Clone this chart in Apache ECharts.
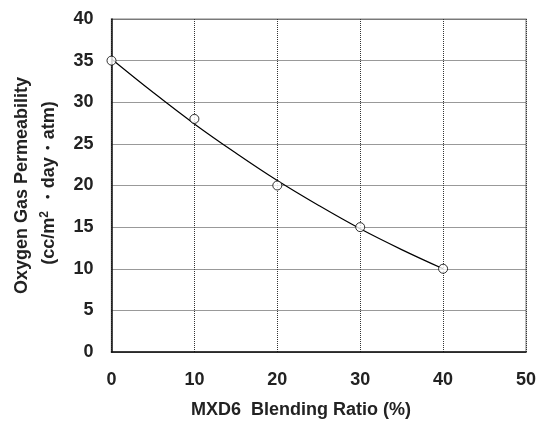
<!DOCTYPE html>
<html>
<head>
<meta charset="utf-8">
<script src="https://cdn.jsdelivr.net/npm/echarts@6/dist/echarts.min.js"></script>
<style>
  html, body { margin: 0; padding: 0; background: #fff; }
  #chart { width: 539px; height: 421px; }
</style>
</head>
<body>
<div id="chart"></div>
<script>
// Measured oxygen permeability vs. MXD6 blending ratio
const blendRatio = [0, 10, 20, 30, 40];
const permeability = [35, 28, 20, 15, 10];

// Fitted trend curve (quadratic fit), sampled every 5 %
const trendX = [0, 5, 10, 15, 20, 25, 30, 35, 40];
const trendY = [35.2, 31.2, 27.4, 23.9, 20.6, 17.6, 14.8, 12.3, 10.0];

const xTicks = [0, 10, 20, 30, 40, 50];
const yTicks = [0, 5, 10, 15, 20, 25, 30, 35, 40];

const FONT = '"Liberation Sans", Arial, sans-serif';
const TEXT = '#222';

const chart = echarts.init(document.getElementById('chart'), null, { renderer: 'canvas' });

const gridLine = { show: true, lineStyle: { color: '#333', type: [1, 1], width: 1 } };

chart.setOption({
  animation: false,
  backgroundColor: '#fff',
  grid: { left: 111.5, right: 11, top: 19, bottom: 69, show: true,
          borderColor: '#aaa', borderWidth: 1.5, backgroundColor: 'transparent' },
  xAxis: {
    type: 'value',
    min: xTicks[0], max: xTicks[xTicks.length - 1], interval: 10,
    axisLine: { show: true, onZero: false, lineStyle: { color: '#111', width: 1.5 } },
    axisTick: { show: false },
    splitLine: gridLine,
    axisLabel: { color: TEXT, fontFamily: FONT, fontWeight: 'bold', fontSize: 18, margin: 19 }
  },
  yAxis: {
    type: 'value',
    min: yTicks[0], max: yTicks[yTicks.length - 1], interval: 5,
    axisLine: { show: true, onZero: false, lineStyle: { color: '#111', width: 1.5 } },
    axisTick: { show: false },
    splitLine: gridLine,
    axisLabel: { color: TEXT, fontFamily: FONT, fontWeight: 'bold', fontSize: 18, margin: 18 }
  },
  graphic: [
    {
      type: 'text', x: 22, y: 185.5, rotation: Math.PI / 2,
      style: { text: 'Oxygen Gas Permeability', fill: TEXT, font: 'bold 18px ' + FONT,
               align: 'center', verticalAlign: 'middle' }
    },
    {
      type: 'text', x: 49, y: 183, rotation: Math.PI / 2,
      style: {
        text: '(cc/m{sup|2} ・day・atm)', fill: TEXT, font: 'bold 18px ' + FONT,
        align: 'center', verticalAlign: 'middle',
        rich: { sup: { fontSize: 12, fontWeight: 'bold', fontFamily: FONT, fill: TEXT, verticalAlign: 'top', padding: [0, 0, 8, 0] } }
      }
    },
    {
      type: 'text', x: 301, y: 410,
      style: { text: 'MXD6  Blending Ratio (%)', fill: TEXT, font: 'bold 18px ' + FONT,
               align: 'center', verticalAlign: 'middle' }
    }
  ],
  series: [
    {
      type: 'line',
      data: trendX.map((x, i) => [x, trendY[i]]),
      smooth: 0.4,
      showSymbol: false,
      lineStyle: { color: '#000', width: 1.2 },
      z: 2
    },
    {
      type: 'scatter',
      data: blendRatio.map((x, i) => [x, permeability[i]]),
      symbol: 'circle',
      symbolSize: 9,
      itemStyle: { color: '#fff', borderColor: '#000', borderWidth: 1 },
      z: 3
    }
  ]
});
</script>
</body>
</html>
